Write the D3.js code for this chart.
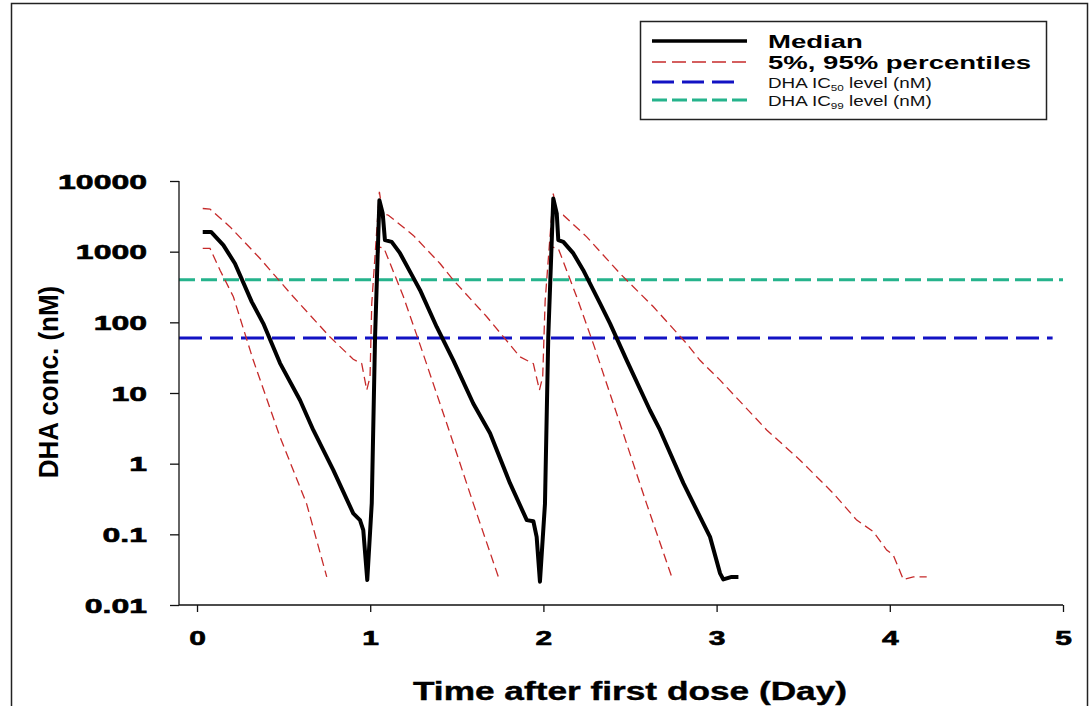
<!DOCTYPE html>
<html>
<head>
<meta charset="utf-8">
<script src="https://cdn.jsdelivr.net/npm/d3@7"></script>
<style>
  html, body { margin: 0; padding: 0; background: #fff; }
  svg { display: block; }
  text { font-family: "Liberation Sans", Arial, sans-serif; }
</style>
</head>
<body>
<svg id="chart" width="1092" height="706"></svg>
<script>
// ---------------- data ----------------
const xTicks = [0, 1, 2, 3, 4, 5];
const yTicks = [0.01, 0.1, 1, 10, 100, 1000, 10000];
const yTickLabels = ["0.01", "0.1", "1", "10", "100", "1000", "10000"];

const medianTime = [0.033, 0.081, 0.152, 0.219, 0.316, 0.383, 0.479, 0.595, 0.671, 0.787, 0.902, 0.941, 0.960, 0.983,
  1.009, 1.028, 1.053, 1.072, 1.085, 1.124, 1.172, 1.247, 1.288, 1.384, 1.480, 1.595, 1.692, 1.807, 1.904, 1.942, 1.961, 1.980,
  2.009, 2.028, 2.057, 2.077, 2.086, 2.115, 2.173, 2.230, 2.327, 2.385, 2.481, 2.615, 2.673, 2.808, 2.923, 2.962, 3.020, 3.039, 3.087, 3.126];
const medianConc = [1900, 1900, 1236, 680, 195, 96, 26.5, 7.9, 3.0, 0.81, 0.198, 0.159, 0.115, 0.0226,
  0.277, 62, 5350, 3500, 1455, 1376, 952, 436, 285, 86, 29, 7.1, 2.7, 0.53, 0.159, 0.153, 0.092, 0.0214,
  0.27, 62, 5650, 3470, 1455, 1376, 944, 547, 185, 96, 29, 5.7, 3.0, 0.53, 0.143, 0.092, 0.028, 0.023, 0.025, 0.025];

const p95Time = [0.033, 0.075, 0.191, 0.364, 0.556, 0.768, 0.902, 0.951, 0.980, 0.999,
  1.009, 1.053, 1.072, 1.105, 1.249, 1.403, 1.480, 1.673, 1.865, 1.942, 1.977, 1.996,
  2.010, 2.057, 2.077, 2.115, 2.250, 2.442, 2.635, 2.827, 2.904, 3.020, 3.135, 3.289, 3.482, 3.674, 3.809, 3.905, 3.982, 4.020, 4.078, 4.136, 4.213];
const p95Conc = [4080, 4000, 2240, 800, 230, 62, 30, 26, 11, 17,
  185, 7010, 3470, 3280, 1700, 680, 395, 120, 32.5, 26, 11, 17,
  200, 6650, 3470, 3280, 1620, 492, 166, 50, 29, 15.2, 7.6, 3.0, 1.12, 0.38, 0.159, 0.109, 0.060, 0.051, 0.023, 0.025, 0.025];

const p5Time = [0.033, 0.075, 0.133, 0.210, 0.325, 0.479, 0.633, 0.749, null,
  1.028, 1.050, 1.080, 1.192, 1.288, 1.442, 1.596, 1.740, null,
  2.028, 2.048, 2.086, 2.192, 2.288, 2.442, 2.596, 2.741];
const p5Conc = [1110, 1110, 547, 230, 29, 2.4, 0.27, 0.025, null,
  62, 1170, 1110, 230, 48, 3.7, 0.27, 0.025, null,
  62, 1170, 1110, 230, 50, 3.7, 0.27, 0.025];

const ic50Conc = 60;
const ic99Conc = 400;

// ---------------- layout ----------------
const svg = d3.select("#chart");
const x = d3.scaleLinear().domain([-0.104, 5]).range([179, 1063]);
const y = d3.scaleLog().domain([0.01, 10000]).range([605, 181]);

const RED = "#c62a2a", BLUE = "#1212c4", GREEN = "#25b38c";

// outer frame
svg.append("rect").attr("x", 11.5).attr("y", 3.5).attr("width", 1076).attr("height", 730)
  .attr("fill", "none").attr("stroke", "#222").attr("stroke-width", 1.5);

// reference lines
svg.append("line").attr("x1", x(-0.104)).attr("x2", x(5)).attr("y1", y(ic99Conc)).attr("y2", y(ic99Conc))
  .attr("stroke", GREEN).attr("stroke-width", 3).attr("stroke-dasharray", "16,6");
svg.append("line").attr("x1", x(-0.104)).attr("x2", x(4.94)).attr("y1", y(ic50Conc)).attr("y2", y(ic50Conc))
  .attr("stroke", BLUE).attr("stroke-width", 3).attr("stroke-dasharray", "23,8");

// series
const toPts = (ts, vs) => ts.map((t, i) => ({ t, v: vs[i] }));
const line = d3.line().defined(d => d.t != null && d.v != null).x(d => x(d.t)).y(d => y(d.v));

svg.append("path").datum(toPts(p95Time, p95Conc)).attr("d", line)
  .attr("fill", "none").attr("stroke", RED).attr("stroke-width", 1.3).attr("stroke-dasharray", "9,5");
svg.append("path").datum(toPts(p5Time, p5Conc)).attr("d", line)
  .attr("fill", "none").attr("stroke", RED).attr("stroke-width", 1.3).attr("stroke-dasharray", "9,5");
svg.append("path").datum(toPts(medianTime, medianConc)).attr("d", line)
  .attr("fill", "none").attr("stroke", "#000").attr("stroke-width", 4).attr("stroke-linejoin", "round");

// axes
const axisG = svg.append("g");
axisG.append("line").attr("x1", 179).attr("x2", 179).attr("y1", y(10000)).attr("y2", y(0.01))
  .attr("stroke", "#111").attr("stroke-width", 1.3);
axisG.append("line").attr("x1", 179).attr("x2", x(5)).attr("y1", y(0.01)).attr("y2", y(0.01))
  .attr("stroke", "#111").attr("stroke-width", 1.3);

const yAxis = svg.append("g").attr("transform", "translate(179,0)")
  .call(d3.axisLeft(y).tickValues(yTicks).tickFormat((d, i) => yTickLabels[i]).tickSize(9));
yAxis.select(".domain").remove();
yAxis.selectAll(".tick line").attr("stroke", "#111").attr("stroke-width", 1.3);
yAxis.selectAll(".tick text")
  .attr("x", -20).attr("dy", "0.36em")
  .attr("transform", "scale(1.6,1)")
  .attr("stroke", "#000").attr("stroke-width", 0.6)
  .style("font-size", "20px").style("font-weight", "bold").attr("fill", "#000");

const xAxis = svg.append("g").attr("transform", "translate(0,605)")
  .call(d3.axisBottom(x).tickValues(xTicks).tickFormat(d3.format("d")).tickSize(7));
xAxis.select(".domain").remove();
xAxis.selectAll(".tick line").attr("stroke", "#111").attr("stroke-width", 1.3);
xAxis.selectAll(".tick text")
  .attr("y", 40).attr("dy", 0)
  .attr("transform", "scale(1.5,1)")
  .attr("stroke", "#000").attr("stroke-width", 0.6)
  .style("font-size", "20px").style("font-weight", "bold").attr("fill", "#000");

// axis titles
svg.append("text").attr("transform", "translate(630,700) scale(1.41,1)")
  .attr("text-anchor", "middle").style("font-size", "25px").style("font-weight", "bold")
  .attr("stroke", "#000").attr("stroke-width", 0.4)
  .text("Time after first dose (Day)");
svg.append("text").attr("transform", "translate(58,382) rotate(-90) scale(1,1.07)")
  .attr("text-anchor", "middle").style("font-size", "26px").style("font-weight", "bold")
  .text("DHA conc. (nM)");

// legend
const lg = svg.append("g");
lg.append("rect").attr("x", 640.5).attr("y", 21.5).attr("width", 406).attr("height", 98)
  .attr("fill", "#fff").attr("stroke", "#222").attr("stroke-width", 1.5);
const legendItems = [
  { label: "Median", color: "#000", w: 3.5, dash: null, y: 41, x2: 747 },
  { label: "5%, 95% percentiles", color: RED, w: 1.3, dash: "14,6", y: 62, x2: 747 },
  { label: "DHA IC", sub: "50", rest: " level (nM)", color: BLUE, w: 3, dash: "22,8", y: 82, x2: 737 },
  { label: "DHA IC", sub: "99", rest: " level (nM)", color: GREEN, w: 3, dash: "15,5", y: 100, x2: 747 }
];
legendItems.forEach((d, i) => {
  const ln = lg.append("line").attr("x1", 652).attr("x2", d.x2).attr("y1", d.y).attr("y2", d.y)
    .attr("stroke", d.color).attr("stroke-width", d.w);
  if (d.dash) ln.attr("stroke-dasharray", d.dash);
  if (!d.sub) {
    lg.append("text").attr("transform", `translate(768,${d.y + 6.5}) scale(1.53,1)`)
      .style("font-size", "18px").style("font-weight", "bold").text(d.label);
  } else {
    const t = lg.append("text").attr("transform", `translate(768,${d.y + 5.5}) scale(1.3,1)`)
      .style("font-size", "14.5px").attr("fill", "#111");
    t.append("tspan").text(d.label);
    t.append("tspan").attr("dy", 3).style("font-size", "9px").text(d.sub);
    t.append("tspan").attr("dy", -3).text(d.rest);
  }
});
</script>
</body>
</html>
